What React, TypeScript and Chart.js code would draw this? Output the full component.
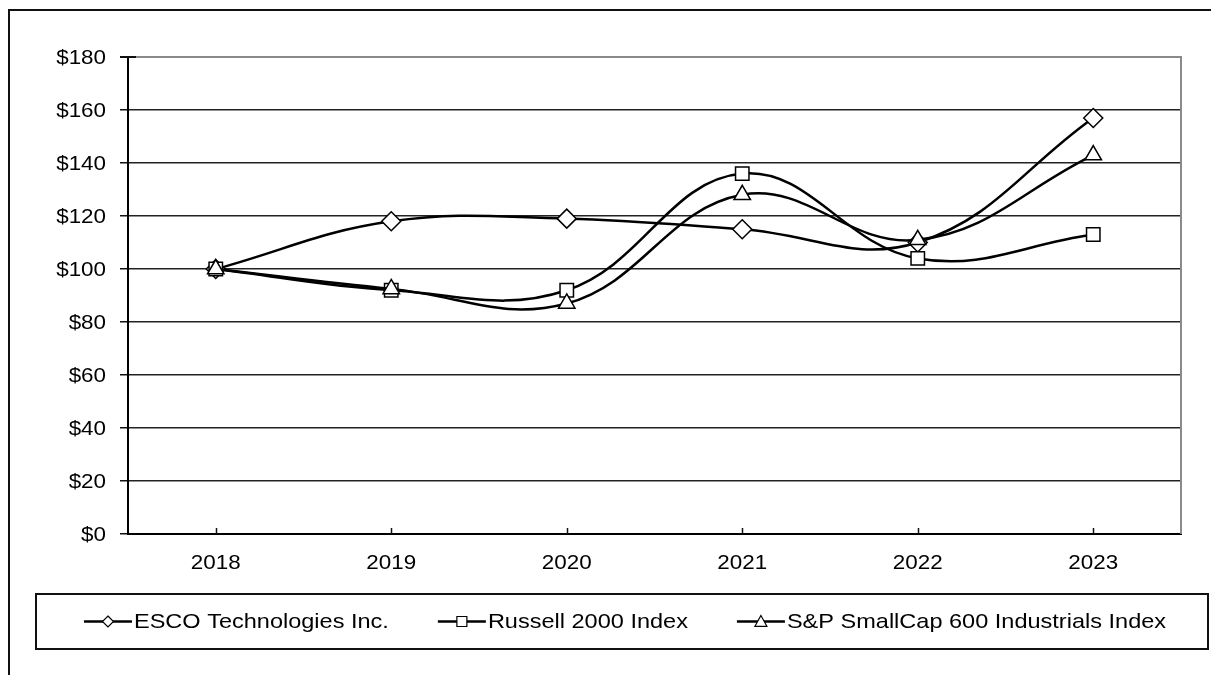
import React, { useEffect, useRef } from 'react';
import { Chart, registerables } from 'chart.js';

Chart.register(...registerables);

const years = ['2018', '2019', '2020', '2021', '2022', '2023'];
const escoValues = [100, 118, 119, 115, 110, 157];
const russellValues = [100, 92, 92, 136, 104, 113];
const spValues = [100, 92.5, 87, 128, 111, 143];
const seriesLabels = ['ESCO Technologies Inc.', 'Russell 2000 Index', 'S&P SmallCap 600 Industrials Index'];
const seriesMarkers = ['rectRot', 'rect', 'triangle'];
const yMin = 0;
const yMax = 180;
const yStep = 20;

const FONT = '"Liberation Sans", Arial, sans-serif';
const STRETCH = 1.12;

function drawLegendMarker(ctx: CanvasRenderingContext2D, style: string, x: number, y: number) {
  ctx.beginPath();
  if (style === 'rectRot') {
    const s = 5.5;
    ctx.moveTo(x, y - s);
    ctx.lineTo(x + s, y);
    ctx.lineTo(x, y + s);
    ctx.lineTo(x - s, y);
    ctx.closePath();
  } else if (style === 'rect') {
    const s = 5;
    ctx.rect(x - s, y - s, 2 * s, 2 * s);
  } else {
    const s = 6;
    ctx.moveTo(x, y - s);
    ctx.lineTo(x + s, y + s * 0.8);
    ctx.lineTo(x - s, y + s * 0.8);
    ctx.closePath();
  }
  ctx.fillStyle = '#fff';
  ctx.fill();
  ctx.lineWidth = 1.2;
  ctx.strokeStyle = '#000';
  ctx.stroke();
}

function drawStretched(
  ctx: CanvasRenderingContext2D,
  text: string,
  x: number,
  y: number,
  align: 'left' | 'center' | 'right',
) {
  const w = ctx.measureText(text).width * STRETCH;
  const left = align === 'left' ? x : align === 'center' ? x - w / 2 : x - w;
  ctx.save();
  ctx.translate(left, y);
  ctx.scale(STRETCH, 1);
  ctx.textAlign = 'left';
  ctx.fillText(text, 0, 0);
  ctx.restore();
  return w;
}

export default function App() {
  const ref = useRef<HTMLCanvasElement>(null);

  useEffect(() => {
    const canvas = ref.current!;

    const decor = {
      id: 'decor',
      beforeDatasetsDraw(chart: any) {
        const ctx = chart.ctx as CanvasRenderingContext2D;
        const a = chart.chartArea;
        ctx.save();
        ctx.strokeStyle = '#8a8a8a';
        ctx.lineWidth = 2;
        ctx.beginPath();
        ctx.moveTo(a.left, a.top);
        ctx.lineTo(a.right, a.top);
        ctx.lineTo(a.right, a.bottom);
        ctx.stroke();
        ctx.strokeStyle = '#111';
        ctx.beginPath();
        ctx.moveTo(a.left - 8, a.top);
        ctx.lineTo(a.left + 8, a.top);
        ctx.stroke();
        // inner tick marks on x axis
        const xs = chart.scales.x;
        ctx.lineWidth = 1.5;
        years.forEach((_, i) => {
          const px = Math.round(xs.getPixelForValue(i)) + 0.5;
          ctx.beginPath();
          ctx.moveTo(px, a.bottom);
          ctx.lineTo(px, a.bottom - 6);
          ctx.stroke();
        });
        ctx.restore();
      },
      afterDraw(chart: any) {
        const ctx = chart.ctx as CanvasRenderingContext2D;
        const a = chart.chartArea;
        ctx.save();

        // axis tick labels (slightly wide, like the source)
        ctx.fillStyle = '#000';
        ctx.textBaseline = 'middle';
        ctx.font = '20px ' + FONT;
        const ys = chart.scales.y;
        ys.ticks.forEach((t: any, i: number) => {
          drawStretched(ctx, '$' + t.value, a.left - 22, ys.getPixelForTick(i) + 1, 'right');
        });
        const xs = chart.scales.x;
        years.forEach((yr, i) => {
          drawStretched(ctx, yr, xs.getPixelForValue(i), a.bottom + 29, 'center');
        });

        // outer frame
        ctx.strokeStyle = '#111';
        ctx.lineWidth = 2;
        ctx.beginPath();
        ctx.moveTo(9, 675);
        ctx.lineTo(9, 10);
        ctx.lineTo(1211, 10);
        ctx.stroke();

        // legend box
        const bx = 36, by = 594, bw = 1172, bh = 55;
        ctx.strokeRect(bx, by, bw, bh);

        ctx.font = '21px ' + FONT;
        ctx.textBaseline = 'middle';
        const sampleW = 48;
        const textGap = 2;
        const itemGap = 49;
        const widths = seriesLabels.map((l) => sampleW + textGap + ctx.measureText(l).width * STRETCH);
        const total = widths.reduce((s, w) => s + w, 0) + itemGap * (seriesLabels.length - 1);
        let x = bx + bw / 2 - total / 2 + 3;
        const cy = by + bh / 2;
        seriesLabels.forEach((label, i) => {
          ctx.strokeStyle = '#000';
          ctx.lineWidth = 2.5;
          ctx.beginPath();
          ctx.moveTo(x, cy);
          ctx.lineTo(x + sampleW, cy);
          ctx.stroke();
          drawLegendMarker(ctx, seriesMarkers[i], x + sampleW / 2, cy);
          ctx.fillStyle = '#000';
          drawStretched(ctx, label, x + sampleW + textGap, cy + 1, 'left');
          x += widths[i] + itemGap;
        });
        ctx.restore();
      },
    };

    const mk = (label: string, data: number[], style: string, radius: number, order: number) => ({
      label,
      data,
      borderColor: '#000',
      borderWidth: 2.5,
      pointStyle: style,
      pointRadius: radius,
      pointBackgroundColor: '#fff',
      pointBorderColor: '#000',
      pointBorderWidth: 1.5,
      tension: 0.4,
      order,
    });

    const chart = new Chart(canvas, {
      type: 'line',
      data: {
        labels: years,
        datasets: [
          mk(seriesLabels[0], escoValues, seriesMarkers[0], 9.5, 2) as any,
          mk(seriesLabels[1], russellValues, seriesMarkers[1], 9.5, 1) as any,
          mk(seriesLabels[2], spValues, seriesMarkers[2], 9.5, 0) as any,
        ],
      },
      options: {
        responsive: false,
        animation: false,
        layout: { padding: { left: 20, top: 57, right: 30, bottom: 100 } },
        plugins: {
          legend: { display: false },
          tooltip: { enabled: false },
        },
        scales: {
          x: {
            type: 'category',
            offset: true,
            grid: { display: false, drawTicks: false },
            border: { display: true, color: '#000', width: 2 },
            ticks: {
              color: 'rgba(0,0,0,0)',
              font: { family: FONT, size: 20 },
              padding: 19,
              maxRotation: 0,
            },
            afterFit: (s: any) => {
              s.height = 41;
            },
          },
          y: {
            min: yMin,
            max: yMax,
            grid: {
              color: (c: any) => (c.tick && c.tick.value === yMax ? '#8a8a8a' : '#222'),
              lineWidth: 1.5,
              tickLength: 8,
              tickColor: '#111',
            },
            border: { display: true, color: '#000', width: 2 },
            ticks: {
              stepSize: yStep,
              color: 'rgba(0,0,0,0)',
              font: { family: FONT, size: 20 },
              padding: 13,
              callback: (v: any) => '$' + v,
            },
            afterFit: (s: any) => {
              s.width = 108;
            },
          },
        },
      },
      plugins: [decor],
    });

    return () => chart.destroy();
  }, []);

  return (
    <div style={{ position: 'absolute', left: 0, top: 0, width: 1211, height: 675 }}>
      <canvas ref={ref} width={1211} height={675} style={{ display: 'block' }} />
    </div>
  );
}
